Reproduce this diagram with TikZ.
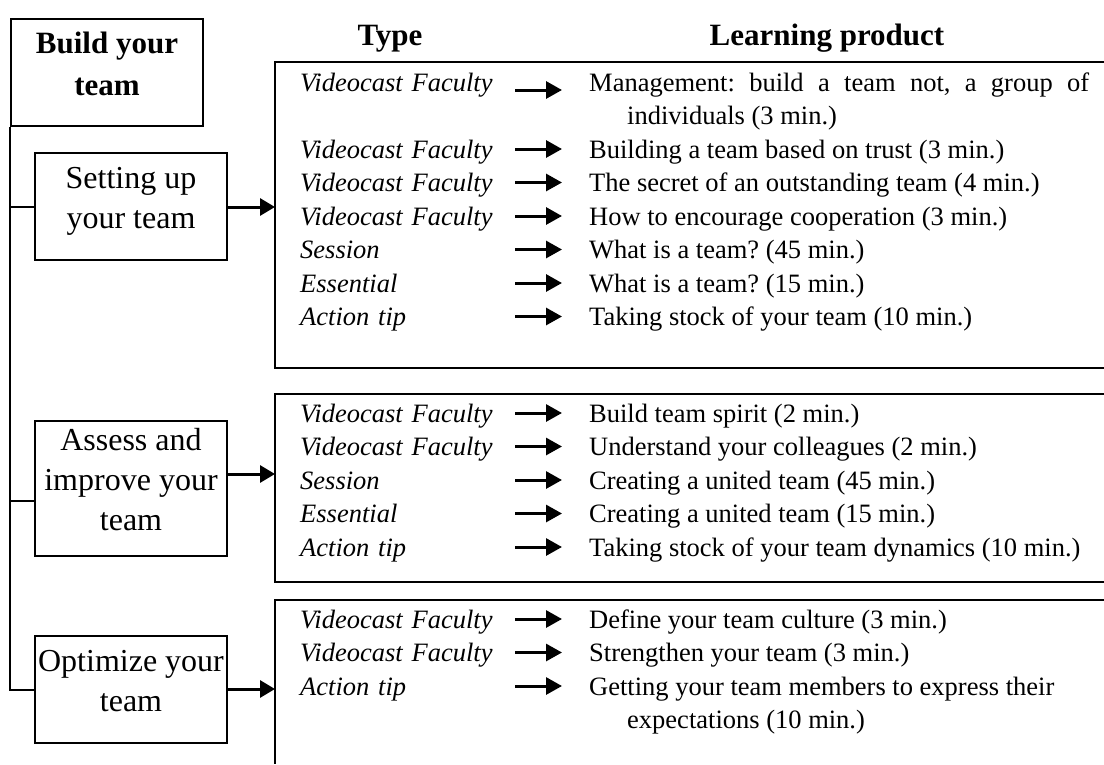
\documentclass[tikz,border=0pt]{standalone}
\usepackage{fontspec}
\setmainfont{Liberation Serif}
\usetikzlibrary{arrows.meta}

\begin{document}
\frenchspacing
\begin{tikzpicture}[
        x=1pt, y=-1pt,
        every node/.style={align=center},
        topic/.style={draw, line width=2pt, minimum width=192pt,
        inner xsep=2pt, text depth=18pt,
        font=\fontsize{32}{40}\selectfont},
        root/.style={topic, font=\bfseries\fontsize{31}{42}\selectfont},
        heading/.style={anchor=base, font=\bfseries\fontsize{31}{42}\selectfont},
        kind/.style={anchor=base west, inner sep=0pt, text width=215pt,
        align=left, text height=18pt, text depth=0pt,
        font=\itshape\fontsize{26.5}{33.5}\selectfont},
        item/.style={anchor=base west, inner sep=0pt,
        font=\fontsize{26.5}{33.5}\selectfont},
        longitem/.style={item, text width=500pt},
        frame/.style={line width=2pt},
        link/.style={line width=2pt},
        bigarrow/.style={line width=3pt, -{Triangle[length=15pt,width=17pt]}},
        pointer/.style={line width=3pt, -{Triangle[length=16pt,width=17pt]},
        shorten >=27pt}
      ]
    \useasboundingbox (0,0) rectangle (1104,764);

    % headings
    \node[heading] (hdtype) at (390,45) {Type};
    \node[heading] (hdprod) at (827,45) {Learning product};

    % left column
    \node[root, minimum height=107pt] (build) at (107,72.5) {Build your\\team};
    \node[topic, minimum height=107pt] (setup) at (131,206.5) {Setting up\\your team};
    \node[topic, minimum height=135pt] (assess) at (131,488.5) {Assess and\\improve your\\team};
    \node[topic, minimum height=107pt] (optim) at (131,689.5) {Optimize your\\team};
    \draw[link] (build.south west) |- (optim.west);
    \draw[link] (build.south west |- setup.west) -- (setup.west);
    \draw[link] ([yshift=-12.5pt]assess.west) -- ([yshift=-12.5pt]assess.west -| build.south west);

    % product frames
    \draw[frame] (1104,62) -- (275,62) -- (275,368) -- (1104,368);
    \draw[frame] (1104,394) -- (275,394) -- (275,582) -- (1104,582);
    \draw[frame] (1104,600) -- (275,600) -- (275,764);
    \coordinate (inA) at (275,207);
    \coordinate (inB) at (275,474);
    \coordinate (inC) at (275,689);
    \draw[bigarrow] (setup.east |- inA) -- (inA);
    \draw[bigarrow] (assess.east |- inB) -- (inB);
    \draw[bigarrow] (optim.east |- inC) -- (inC);

    % first frame
    \node[kind] (kA1) at (300,91) {Videocast Faculty};
    \node[longitem, align=justify] (pA1) at (589,91)
    {Management: build a team not, a group of\linebreak\hspace*{38pt}individuals (3 min.)};
    \node[kind] (kA2) at (300,158) {Videocast Faculty};
    \node[item] (pA2) at (589,158) {Building a team based on trust (3 min.)};
    \node[kind] (kA3) at (300,191.5) {Videocast Faculty};
    \node[item] (pA3) at (589,191.5) {The secret of an outstanding team (4 min.)};
    \node[kind] (kA4) at (300,225) {Videocast Faculty};
    \node[item] (pA4) at (589,225) {How to encourage cooperation (3 min.)};
    \node[kind] (kA5) at (300,258.5) {Session};
    \node[item] (pA5) at (589,258.5) {What is a team? (45 min.)};
    \node[kind] (kA6) at (300,292) {Essential};
    \node[item] (pA6) at (589,292) {What is a team? (15 min.)};
    \node[kind] (kA7) at (300,325.5) {Action tip};
    \node[item] (pA7) at (589,325.5) {Taking stock of your team (10 min.)};
    \draw[pointer] ([yshift=-8pt]kA1.east) -- ([yshift=-8pt]kA1.east -| pA1.west);
    \draw[pointer] (kA2.east) -- (kA2.east -| pA2.west);
    \draw[pointer] (kA3.east) -- (kA3.east -| pA3.west);
    \draw[pointer] (kA4.east) -- (kA4.east -| pA4.west);
    \draw[pointer] (kA5.east) -- (kA5.east -| pA5.west);
    \draw[pointer] (kA6.east) -- (kA6.east -| pA6.west);
    \draw[pointer] (kA7.east) -- (kA7.east -| pA7.west);

    % second frame
    \node[kind] (kB1) at (300,422) {Videocast Faculty};
    \node[item] (pB1) at (589,422) {Build team spirit (2 min.)};
    \node[kind] (kB2) at (300,455.5) {Videocast Faculty};
    \node[item] (pB2) at (589,455.5) {Understand your colleagues (2 min.)};
    \node[kind] (kB3) at (300,489) {Session};
    \node[item] (pB3) at (589,489) {Creating a united team (45 min.)};
    \node[kind] (kB4) at (300,522.5) {Essential};
    \node[item] (pB4) at (589,522.5) {Creating a united team (15 min.)};
    \node[kind] (kB5) at (300,556) {Action tip};
    \node[item] (pB5) at (589,556) {Taking stock of your team dynamics (10 min.)};
    \draw[pointer] (kB1.east) -- (kB1.east -| pB1.west);
    \draw[pointer] (kB2.east) -- (kB2.east -| pB2.west);
    \draw[pointer] (kB3.east) -- (kB3.east -| pB3.west);
    \draw[pointer] (kB4.east) -- (kB4.east -| pB4.west);
    \draw[pointer] (kB5.east) -- (kB5.east -| pB5.west);

    % third frame
    \node[kind] (kC1) at (300,628) {Videocast Faculty};
    \node[item] (pC1) at (589,628) {Define your team culture (3 min.)};
    \node[kind] (kC2) at (300,661.5) {Videocast Faculty};
    \node[item] (pC2) at (589,661.5) {Strengthen your team (3 min.)};
    \node[kind] (kC3) at (300,695) {Action tip};
    \node[longitem, align=flush left] (pC3) at (589,695)
    {Getting your team members to express their\newline\hspace*{38pt}expectations (10 min.)};
    \draw[pointer] (kC1.east) -- (kC1.east -| pC1.west);
    \draw[pointer] (kC2.east) -- (kC2.east -| pC2.west);
    \draw[pointer] (kC3.east) -- (kC3.east -| pC3.west);
      \end{tikzpicture}
\end{document}
